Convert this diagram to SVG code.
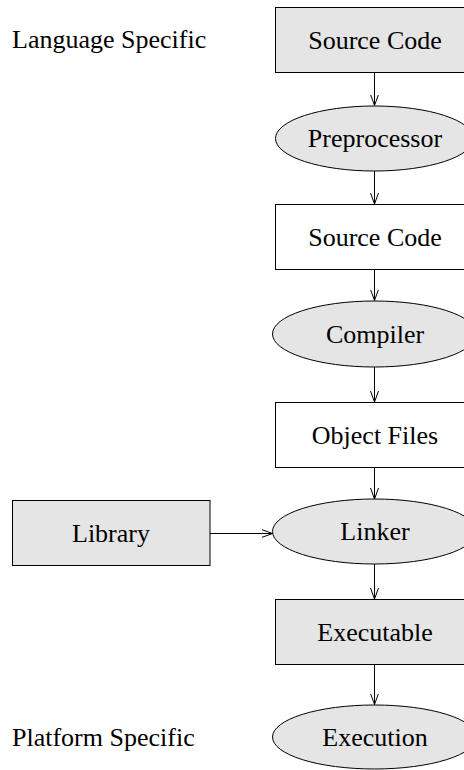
<svg xmlns="http://www.w3.org/2000/svg" width="464" height="770" viewBox="0 0 464 770">
<defs>
<style>
.box{stroke:#000;stroke-width:1}
.gray{fill:#e5e5e5}
.white{fill:#fff}
.lbl{font-family:"Liberation Serif","Times New Roman",serif;font-size:26px;fill:#000}
.mid{text-anchor:middle}
.edge{stroke:#000;stroke-width:1;fill:none;marker-end:url(#arr)}
</style>
<marker id="arr" markerUnits="userSpaceOnUse" markerWidth="14" markerHeight="12" refX="11" refY="4.5" orient="auto">
<path d="M0,0.5 L11,4.5 L0,8.5" fill="none" stroke="#000" stroke-width="1"/>
</marker>
</defs>
<rect width="464" height="770" fill="#fff"/>
<g id="label-language"><text class="lbl" x="12" y="47.5">Language Specific</text></g>
<g id="label-platform"><text class="lbl" x="12" y="745.5">Platform Specific</text></g>
<g id="connectors">
<line class="edge" x1="374.5" y1="72.5" x2="374.5" y2="105.5"/>
<line class="edge" x1="374.5" y1="171" x2="374.5" y2="204"/>
<line class="edge" x1="374.5" y1="269.5" x2="374.5" y2="300.5"/>
<line class="edge" x1="374.5" y1="367" x2="374.5" y2="402"/>
<line class="edge" x1="374.5" y1="467.5" x2="374.5" y2="499"/>
<line class="edge" x1="374.5" y1="564" x2="374.5" y2="599"/>
<line class="edge" x1="374.5" y1="664.5" x2="374.5" y2="704.5"/>
<line class="edge" x1="210" y1="533.5" x2="272.5" y2="533.5"/>
</g>
<g id="source-code-1"><rect class="box gray" x="275.5" y="7.5" width="199" height="65"/><text class="lbl mid" x="375" y="48.5">Source Code</text></g>
<g id="preprocessor"><ellipse class="box gray" cx="374.5" cy="138.5" rx="99" ry="32.5"/><text class="lbl mid" x="375" y="147">Preprocessor</text></g>
<g id="source-code-2"><rect class="box white" x="275.5" y="204.5" width="199" height="65"/><text class="lbl mid" x="375" y="245.5">Source Code</text></g>
<g id="compiler"><ellipse class="box gray" cx="374.5" cy="334" rx="102" ry="33"/><text class="lbl mid" x="375" y="342.5">Compiler</text></g>
<g id="object-files"><rect class="box white" x="275.5" y="402.5" width="199" height="65"/><text class="lbl mid" x="375" y="443.5">Object Files</text></g>
<g id="library"><rect class="box gray" x="12.5" y="500.5" width="197.5" height="65"/><text class="lbl mid" x="111" y="541.5">Library</text></g>
<g id="linker"><ellipse class="box gray" cx="374.5" cy="531.5" rx="102" ry="32.5"/><text class="lbl mid" x="375" y="540">Linker</text></g>
<g id="executable"><rect class="box gray" x="275.5" y="599.5" width="199" height="65"/><text class="lbl mid" x="375" y="640.5">Executable</text></g>
<g id="execution"><ellipse class="box gray" cx="374.5" cy="737" rx="102" ry="32"/><text class="lbl mid" x="375" y="745.5">Execution</text></g>
</svg>
